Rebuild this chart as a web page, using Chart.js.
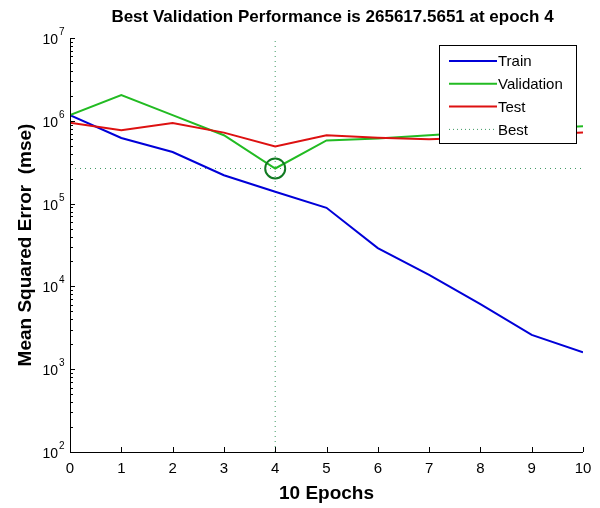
<!DOCTYPE html>
<html>
<head>
<meta charset="utf-8">
<script src="https://cdn.jsdelivr.net/npm/chart.js@4"></script>
<style>
html, body { margin: 0; padding: 0; background: #fff; }
#wrap { width: 600px; height: 508px; }
</style>
</head>
<body>
<div id="wrap"><canvas id="perfChart"></canvas></div>
<script>
// values
const epochs = [0, 1, 2, 3, 4, 5, 6, 7, 8, 9, 10];
const trainMse = [1.17e6, 6.2e5, 4.2e5, 2.2e5, 1.39e5, 8.9e4, 2.9e4, 1.38e4, 6.1e3, 2.6e3, 1.6e3];
const validationMse = [1.17e6, 2.04e6, 1.17e6, 6.7e5, 265617.5651, 5.8e5, 6.1e5, 6.7e5, 7.3e5, 8.0e5, 8.6e5];
const testMse = [9.5e5, 7.7e5, 9.4e5, 7.2e5, 4.9e5, 6.7e5, 6.25e5, 6.0e5, 6.3e5, 6.8e5, 7.2e5];
const bestEpoch = 4;
const bestPerf = 265617.5651;
const yTickExps = [2, 3, 4, 5, 6, 7];
const seriesNames = ['Train', 'Validation', 'Test', 'Best'];

const FONT = '"Liberation Sans", Arial, sans-serif';
const trainColor = '#0000d8';
const valColor = '#22bb22';
const testColor = '#dd1111';
const bestColor = '#3f9a64';

const toPoints = (arr) => epochs.map((e, i) => ({ x: e, y: arr[i] }));

// draws title, inward ticks, superscript y labels and the legend box
const matlabAxes = {
    id: 'matlabAxes',
    afterDraw(chart) {
        const ctx = chart.ctx;
        const xs = chart.scales.x;
        const ys = chart.scales.y;
        const area = chart.chartArea;
        ctx.save();

        // title, centred over the axes like MATLAB does
        ctx.fillStyle = '#000';
        ctx.font = 'bold 17px ' + FONT;
        ctx.textAlign = 'center';
        ctx.textBaseline = 'middle';
        ctx.fillText('Best Validation Performance is ' + bestPerf + ' at epoch ' + bestEpoch,
            (area.left + area.right) / 2 + 6, 17);

        ctx.strokeStyle = '#000';
        ctx.lineWidth = 1;

        // axis lines
        ctx.beginPath();
        ctx.moveTo(area.left + 0.5, area.top);
        ctx.lineTo(area.left + 0.5, area.bottom + 0.5);
        ctx.lineTo(area.right, area.bottom + 0.5);
        ctx.stroke();

        // x ticks
        epochs.forEach(e => {
            const px = Math.round(xs.getPixelForValue(e)) + 0.5;
            ctx.beginPath();
            ctx.moveTo(px, area.bottom);
            ctx.lineTo(px, area.bottom - 5);
            ctx.stroke();
        });

        // y ticks (major + minor) and labels
        yTickExps.forEach((p, idx) => {
            const base = Math.pow(10, p);
            const py = Math.round(ys.getPixelForValue(base)) + 0.5;
            ctx.beginPath();
            ctx.moveTo(area.left, py);
            ctx.lineTo(area.left + 5, py);
            ctx.stroke();
            if (idx < yTickExps.length - 1) {
                for (let m = 2; m < 10; m++) {
                    const my = Math.round(ys.getPixelForValue(base * m)) + 0.5;
                    ctx.beginPath();
                    ctx.moveTo(area.left, my);
                    ctx.lineTo(area.left + 3, my);
                    ctx.stroke();
                }
            }
            const labelRight = area.left - 12;
            ctx.fillStyle = '#000';
            ctx.font = '14px ' + FONT;
            ctx.textAlign = 'right';
            ctx.textBaseline = 'middle';
            ctx.fillText('10', labelRight, py + 2);
            ctx.font = '10px ' + FONT;
            ctx.textAlign = 'left';
            ctx.textBaseline = 'alphabetic';
            ctx.fillText(String(p), labelRight + 1, py - 4);
        });

        // legend
        const lx = 439, ly = 45, lw = 137, lh = 98;
        ctx.fillStyle = '#fff';
        ctx.fillRect(lx, ly, lw, lh);
        ctx.strokeStyle = '#000';
        ctx.strokeRect(lx + 0.5, ly + 0.5, lw, lh);
        const legendItems = [
            { name: seriesNames[0], color: trainColor, dash: [] },
            { name: seriesNames[1], color: valColor, dash: [] },
            { name: seriesNames[2], color: testColor, dash: [] },
            { name: seriesNames[3], color: bestColor, dash: [1, 3] }
        ];
        legendItems.forEach((it, i) => {
            const y = ly + 16 + i * 22.8;
            ctx.strokeStyle = it.color;
            ctx.lineWidth = it.dash.length ? 1 : 2;
            ctx.setLineDash(it.dash);
            ctx.beginPath();
            ctx.moveTo(lx + 10, y);
            ctx.lineTo(lx + 58, y);
            ctx.stroke();
            ctx.setLineDash([]);
            ctx.fillStyle = '#000';
            ctx.font = '15px ' + FONT;
            ctx.textAlign = 'left';
            ctx.textBaseline = 'middle';
            ctx.fillText(it.name, lx + 59, y + 1);
        });
        ctx.restore();
    }
};

const whiteBg = {
    id: 'whiteBg',
    beforeDraw(chart) {
        const ctx = chart.ctx;
        ctx.save();
        ctx.fillStyle = '#fff';
        ctx.fillRect(0, 0, chart.width, chart.height);
        ctx.restore();
    }
};

new Chart(document.getElementById('perfChart'), {
    type: 'line',
    data: {
        datasets: [
            {
                label: seriesNames[0],
                data: toPoints(trainMse),
                borderColor: trainColor,
                borderWidth: 2,
                pointRadius: 0,
                order: 2
            },
            {
                label: seriesNames[1],
                data: toPoints(validationMse),
                borderColor: valColor,
                borderWidth: 2,
                pointRadius: 0,
                order: 1
            },
            {
                label: seriesNames[2],
                data: toPoints(testMse),
                borderColor: testColor,
                borderWidth: 2,
                pointRadius: 0,
                order: 0
            },
            {
                label: 'Best (h)',
                data: [{ x: epochs[0], y: bestPerf }, { x: epochs[epochs.length - 1], y: bestPerf }],
                borderColor: bestColor,
                borderWidth: 1,
                borderDash: [1, 4],
                pointRadius: 0,
                order: 3
            },
            {
                label: 'Best (v)',
                data: [{ x: bestEpoch, y: Math.pow(10, yTickExps[0]) }, { x: bestEpoch, y: Math.pow(10, yTickExps[yTickExps.length - 1]) }],
                borderColor: bestColor,
                borderWidth: 1,
                borderDash: [1, 4],
                pointRadius: 0,
                order: 3
            },
            {
                label: 'Best point',
                data: [{ x: bestEpoch, y: bestPerf }],
                showLine: false,
                pointStyle: 'circle',
                pointRadius: 10,
                pointBorderWidth: 2,
                pointBorderColor: '#117a22',
                pointBackgroundColor: 'rgba(0,0,0,0)',
                order: 0
            }
        ]
    },
    options: {
        responsive: true,
        maintainAspectRatio: false,
        animation: false,
        devicePixelRatio: 1,
        layout: { padding: { left: 0, right: 17, top: 38, bottom: 0 } },
        plugins: {
            legend: { display: false },
            tooltip: { enabled: false },
            title: { display: false }
        },
        scales: {
            x: {
                type: 'linear',
                min: epochs[0],
                max: epochs[epochs.length - 1],
                grid: { display: false, drawTicks: false },
                border: { display: false },
                ticks: {
                    stepSize: 1,
                    color: '#000',
                    font: { family: FONT, size: 15 },
                    padding: 8,
                    maxRotation: 0
                },
                title: {
                    display: true,
                    text: '10 Epochs',
                    color: '#000',
                    font: { family: FONT, size: 19, weight: 'bold', lineHeight: 1.2 },
                    padding: { top: 0, bottom: 3 }
                },
                afterFit(scale) { scale.height = 56; }
            },
            y: {
                type: 'logarithmic',
                min: Math.pow(10, yTickExps[0]),
                max: Math.pow(10, yTickExps[yTickExps.length - 1]),
                grid: { display: false, drawTicks: false },
                border: { display: false },
                ticks: { display: false },
                title: {
                    display: true,
                    text: 'Mean Squared Error  (mse)',
                    color: '#000',
                    font: { family: FONT, size: 19, weight: 'bold', lineHeight: 1.2 },
                    padding: { top: 14, bottom: 0 }
                },
                afterFit(scale) { scale.width = 70; }
            }
        }
    },
    plugins: [whiteBg, matlabAxes]
});
</script>
</body>
</html>
